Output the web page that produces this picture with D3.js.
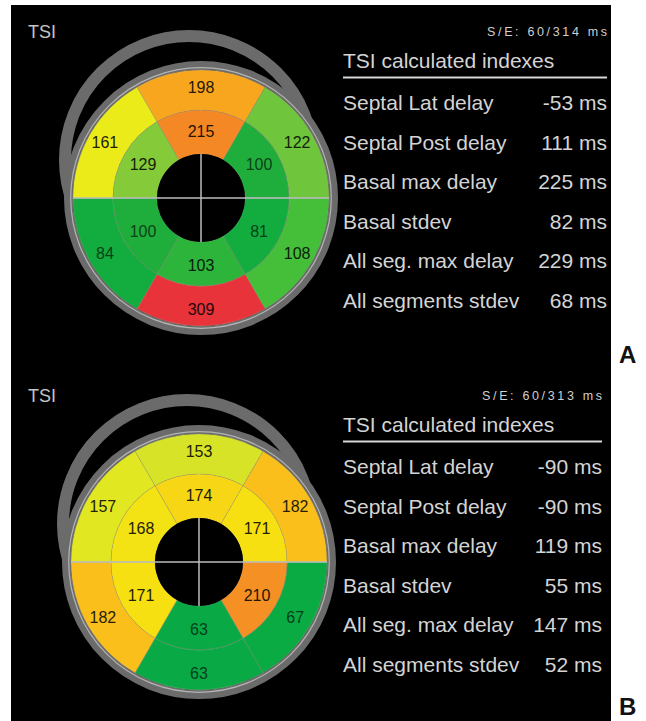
<!DOCTYPE html>
<html><head><meta charset="utf-8">
<script src="https://cdn.jsdelivr.net/npm/d3@7"></script>
<style>html,body{margin:0;padding:0;background:#fff;} svg{display:block}</style>
</head><body><svg id="chart" width="646" height="721"></svg>
<script>
// ---------- data ----------
const panelLetters = ["A", "B"];
// segment order: clockwise from top (anterior, upper-right, lower-right, inferior, lower-left, upper-left)
const basalA = [198, 122, 108, 309, 84, 161];
const midA   = [215, 100, 81, 103, 100, 129];
const basalB = [153, 182, 67, 63, 182, 157];
const midB   = [174, 171, 210, 63, 171, 168];
const indexLabels = ["Septal Lat delay", "Septal Post delay", "Basal max delay",
                     "Basal stdev", "All seg. max delay", "All segments stdev"];
const indexValuesA = [-53, 111, 225, 82, 229, 68];
const indexValuesB = [-90, -90, 119, 55, 147, 52];
const startEndA = [60, 314];
const startEndB = [60, 313];
const colorStops  = [60, 85, 100, 108, 125, 153, 161, 171, 182, 198, 213, 309];
const colorValues = ["#07aa46", "#14ac3e", "#1fae3c", "#45be3a", "#78c63c", "#d6e326",
                     "#ebeb1a", "#f6e012", "#fbbf1c", "#f9a61f", "#f38a25", "#e8333a"];

// ---------- setup ----------
const svg = d3.select("#chart");
const color = d3.scaleLinear().domain(colorStops).range(colorValues).interpolate(d3.interpolateRgb);
const angle = d3.scaleLinear().domain([0, 6]).range([-Math.PI / 6, 2 * Math.PI - Math.PI / 6]);

svg.append("rect").attr("x", 11).attr("y", 5).attr("width", 600).attr("height", 716).attr("fill", "#000");

const panels = [
  {letter: panelLetters[0], basal: basalA, mid: midA, idx: indexValuesA, se: startEndA,
   cx: 201, cy: 198, top: 0, right: 607, letterY: 363},
  {letter: panelLetters[1], basal: basalB, mid: midB, idx: indexValuesB, se: startEndB,
   cx: 199, cy: 562, top: 364, right: 602, letterY: 715}
];

const R0 = 44, R1 = 88, R2 = 128;
const arc = d3.arc();

panels.forEach(p => {
  const g = svg.append("g");
  // TSI label
  g.append("text").attr("x", 28).attr("y", p.top + 38)
    .attr("font-family", "Liberation Sans, Arial, sans-serif").attr("font-size", 18)
    .attr("fill", "#c4c4c4").text("TSI");

  // offset shadow ring
  g.append("circle").attr("cx", p.cx - 12).attr("cy", p.cy - 38).attr("r", 124)
    .attr("fill", "none").attr("stroke", "#6b6b6b").attr("stroke-width", 12);
  // main gray band
  g.append("circle").attr("cx", p.cx).attr("cy", p.cy).attr("r", 132.5)
    .attr("fill", "#000").attr("stroke", "#6b6b6b").attr("stroke-width", 9);
  g.append("circle").attr("cx", p.cx).attr("cy", p.cy).attr("r", 130.3)
    .attr("fill", "none").attr("stroke", "#b4b4b4").attr("stroke-width", 1.2);

  const bull = g.append("g").attr("transform", `translate(${p.cx},${p.cy})`);
  const rings = [
    {vals: p.basal, inner: R1, outer: R2, labelR: 111},
    {vals: p.mid, inner: R0, outer: R1, labelR: 67}
  ];
  rings.forEach(ring => {
    bull.selectAll(null).data(ring.vals).enter().append("path")
      .attr("d", (v, i) => arc({innerRadius: ring.inner, outerRadius: ring.outer,
        startAngle: angle(i), endAngle: angle(i + 1)}))
      .attr("fill", v => color(v))
      .attr("stroke", "rgba(170,170,150,0.45)").attr("stroke-width", 0.8);
  });
  // hole
  bull.append("circle").attr("r", R0).attr("fill", "#000");
  // cross lines
  bull.append("line").attr("x1", -R2).attr("x2", R2).attr("y1", 0).attr("y2", 0)
    .attr("stroke", "#bdbdbd").attr("stroke-width", 1.5);
  bull.append("line").attr("x1", 0).attr("x2", 0).attr("y1", -R0).attr("y2", R0)
    .attr("stroke", "#bdbdbd").attr("stroke-width", 1.5);
  // labels
  rings.forEach(ring => {
    bull.selectAll(null).data(ring.vals).enter().append("text")
      .attr("transform", (v, i) => {
        const [x, y] = d3.pointRadial((angle(i) + angle(i + 1)) / 2, ring.labelR);
        return `translate(${x},${y})`;
      })
      .attr("text-anchor", "middle").attr("dy", "0.36em")
      .attr("font-family", "Liberation Sans, Arial, sans-serif").attr("font-size", 16)
      .attr("fill", v => d3.interpolateRgb(color(v), "#000")(v <= 100 ? 0.62 : 0.85))
      .text(v => v);
  });

  // right text column
  const tx = 343;
  const tfont = "Liberation Sans, Arial, sans-serif";
  g.append("text").attr("x", p.right).attr("y", p.top + 36).attr("text-anchor", "end")
    .attr("font-family", tfont).attr("font-size", 12.5).attr("fill", "#cfcfcf")
    .attr("textLength", 120).attr("lengthAdjust", "spacing")
    .text(`S/E: ${p.se[0]}/${p.se[1]} ms`);
  g.append("text").attr("x", tx).attr("y", p.top + 68)
    .attr("font-family", tfont).attr("font-size", 21).attr("fill", "#d4d4d4")
    .text("TSI calculated indexes");
  g.append("line").attr("x1", tx).attr("x2", p.right).attr("y1", p.top + 77.5).attr("y2", p.top + 77.5)
    .attr("stroke", "#d8d8d8").attr("stroke-width", 2);
  const rowY = d3.scaleLinear().domain([0, 5]).range([p.top + 110, p.top + 308]);
  g.selectAll(null).data(indexLabels).enter().append("text")
    .attr("x", tx).attr("y", (d, i) => rowY(i))
    .attr("font-family", tfont).attr("font-size", 21).attr("fill", "#d4d4d4")
    .text(d => d);
  g.selectAll(null).data(p.idx).enter().append("text")
    .attr("x", p.right).attr("y", (d, i) => rowY(i)).attr("text-anchor", "end")
    .attr("font-family", tfont).attr("font-size", 21).attr("fill", "#d4d4d4")
    .text(d => `${d} ms`);

  // panel letter
  svg.append("text").attr("x", 619).attr("y", p.letterY)
    .attr("font-family", "Liberation Sans, Arial, sans-serif").attr("font-weight", "bold")
    .attr("font-size", 24).attr("fill", "#111").text(p.letter);
});
</script>
</body></html>
